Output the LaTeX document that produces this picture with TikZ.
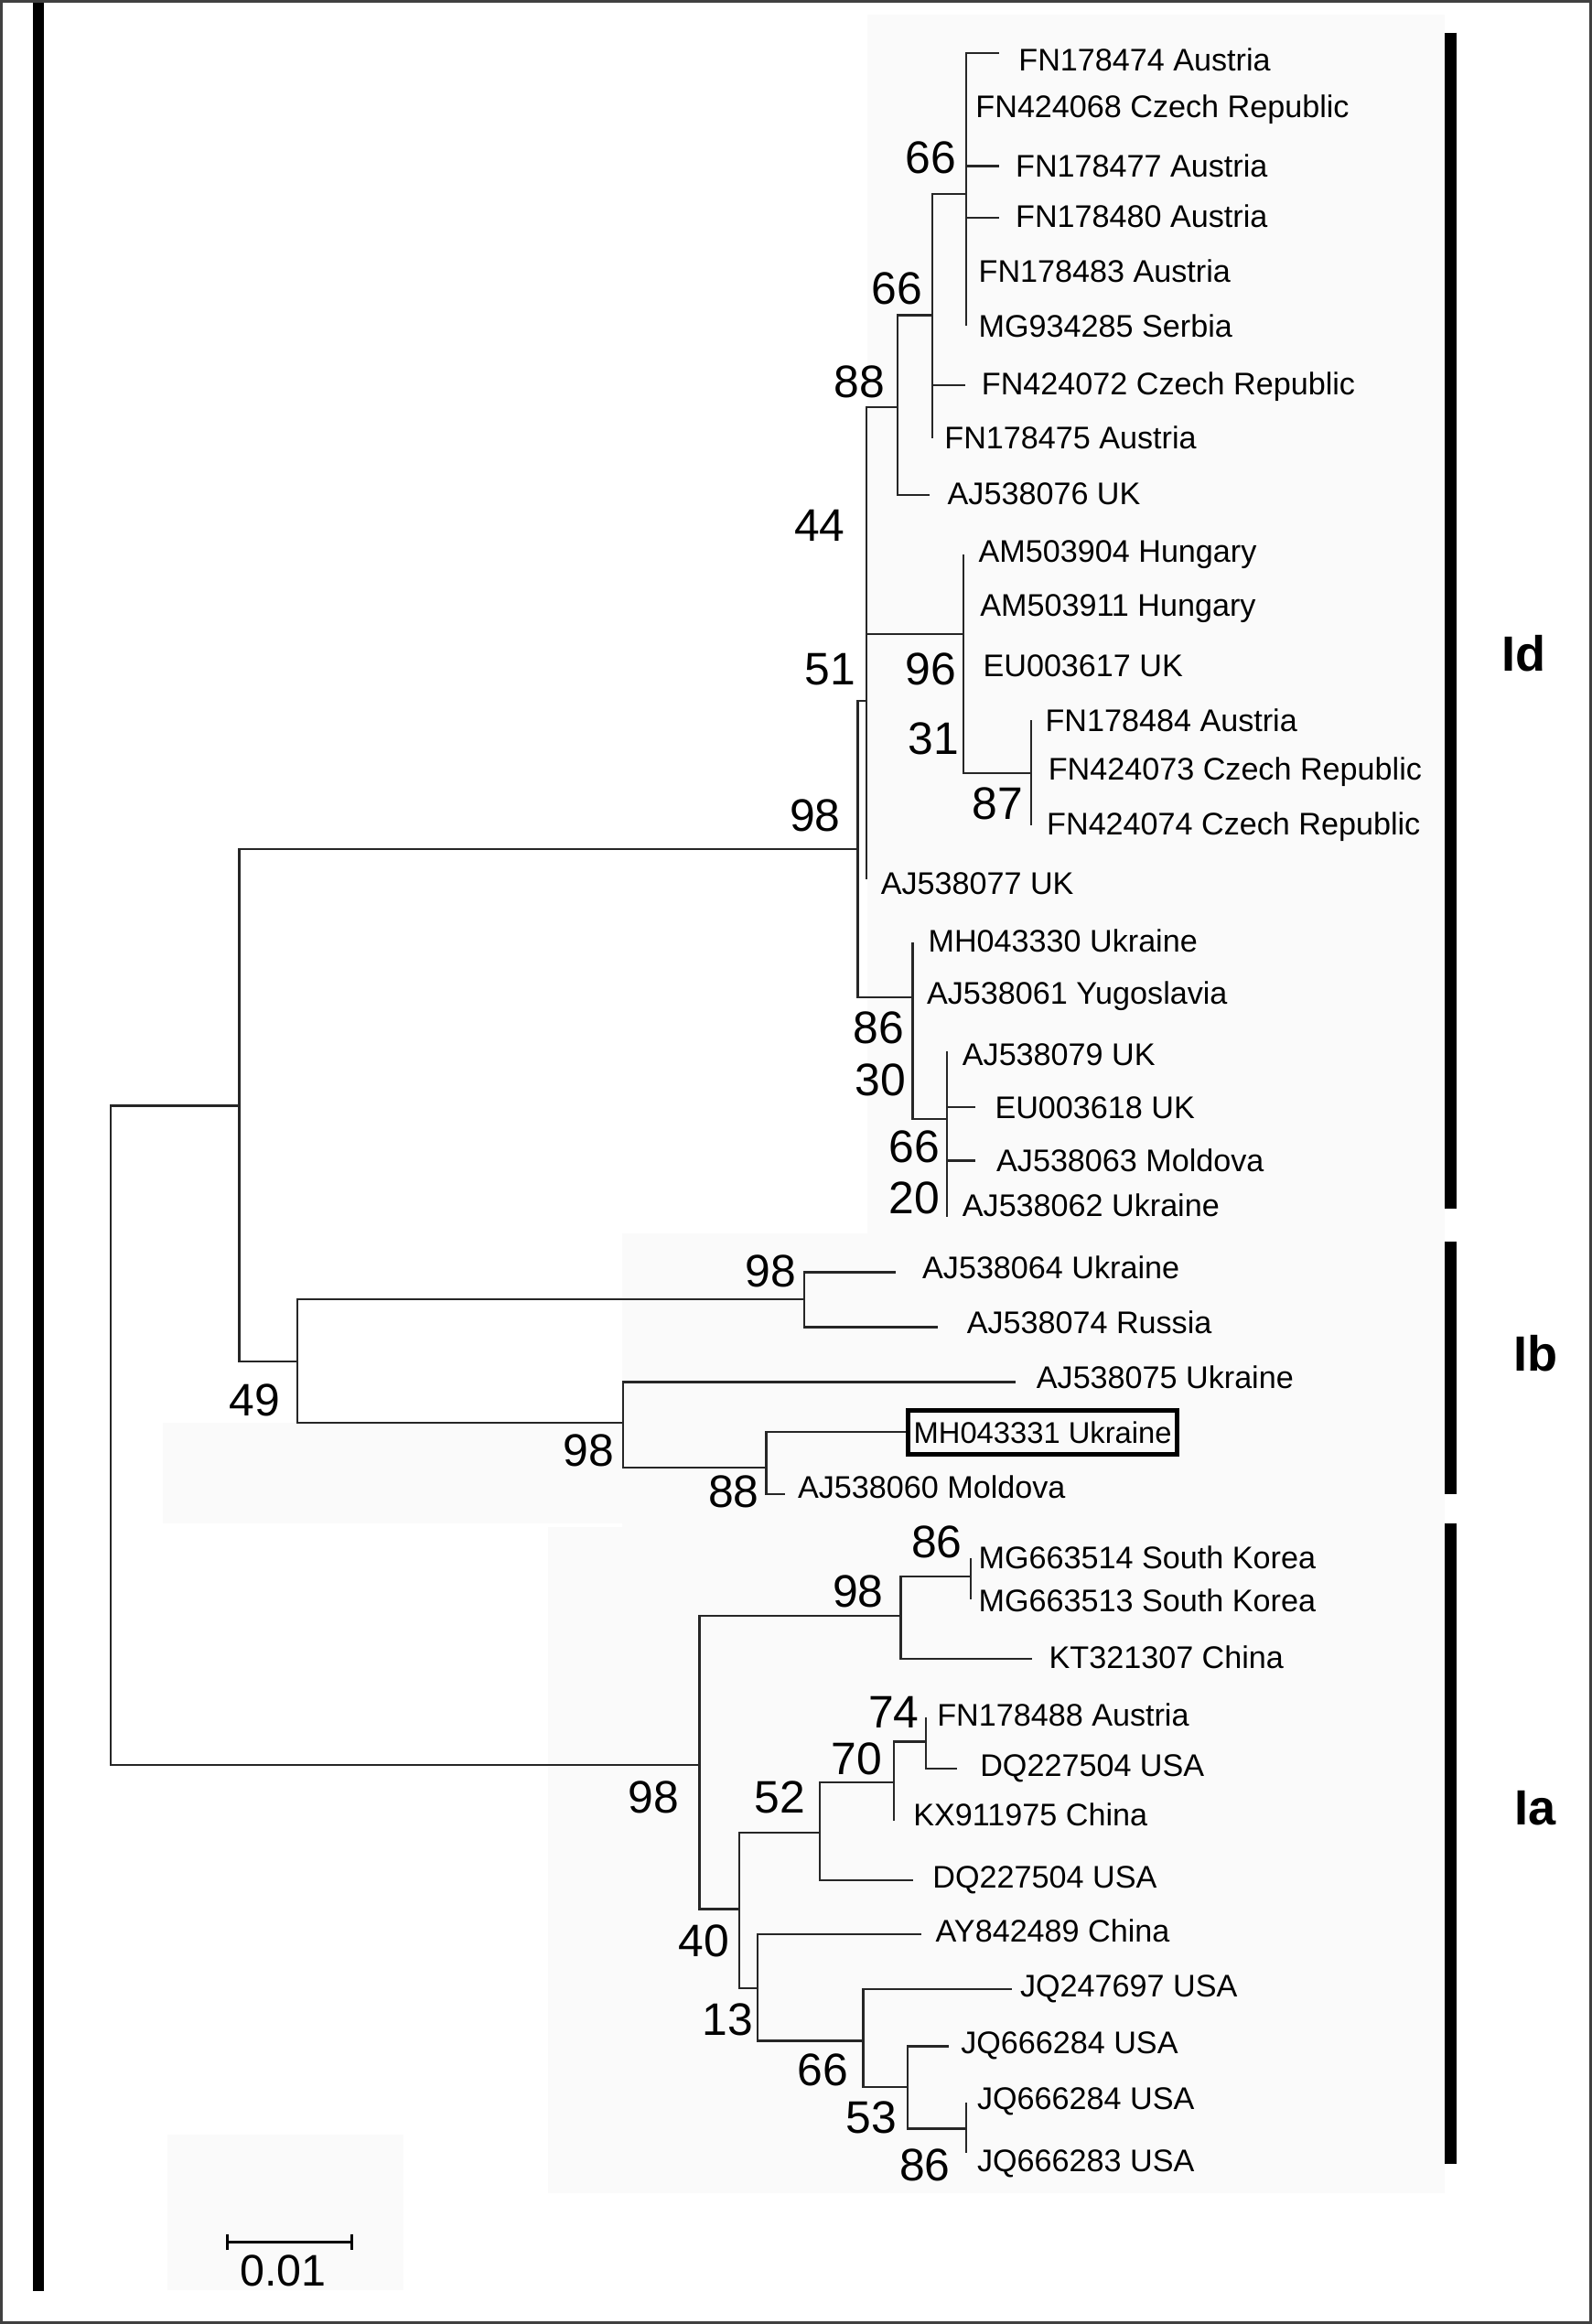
\documentclass[tikz,border=0pt]{standalone}
\usepackage{fontspec}
\setmainfont{Liberation Sans}
\usetikzlibrary{arrows.meta}

\begin{document}
\begin{tikzpicture}[
  x=0.02cm, y=-0.02cm,
  br/.style      ={draw=black!85, line width=0.8pt},
  tip/.style     ={anchor=base west, inner sep=0pt, yshift=-4.3pt,
                   font=\fontsize{12}{14}\selectfont},
  boot/.style    ={anchor=base, inner sep=0pt, yshift=-6.3pt,
                   font=\fontsize{17.5}{20}\selectfont},
  cladebar/.style={line width=4.3pt},
  clade/.style   ={inner sep=0pt, font=\bfseries\fontsize{19}{22}\selectfont},
  patch/.style   ={fill=black!2, draw=none},
  query/.style   ={draw, line width=1.6pt, inner sep=0pt, minimum width=103.3pt,
                   minimum height=16.8pt, font=\fontsize{11.5}{13}\selectfont}
]
\useasboundingbox (0,0) rectangle (1074,1568);

% faint backdrop
\fill[patch] (585,10) rectangle (975,832);
\fill[patch] (420,832) rectangle (975,1030);
\fill[patch] (110,960) rectangle (600,1028);
\fill[patch] (370,1030) rectangle (975,1480);
\fill[patch] (113,1440) rectangle (272,1545);

% frame and left bar
\draw[black!75, line width=1.1pt] (1,1) rectangle (1073,1567);
\coordinate (bartop) at (26,2);
\coordinate (barbot) at (26,1546);
\draw[cladebar] (bartop) -- (barbot);

% internal nodes
\coordinate (root) at (74.5,968);
\coordinate (r2)   at (161.5,746);
\coordinate (h98)  at (578.7,573);
\coordinate (g51)  at (584.6,473);
\coordinate (d44)  at (584.6,351);
\coordinate (c88)  at (605.8,274.5);
\coordinate (b66)  at (629,212.6);
\coordinate (a66)  at (652,130.7);
\coordinate (e96)  at (650,428);
\coordinate (f87)  at (695.8,521.5);
\coordinate (i86)  at (615.8,673);
\coordinate (j30)  at (639,755);
\coordinate (k49)  at (200.6,918.6);
\coordinate (l98)  at (542.6,876.5);
\coordinate (m98)  at (420.3,960);
\coordinate (n88)  at (517,990);
\coordinate (o98)  at (472,1191);
\coordinate (p98)  at (607.8,1090);
\coordinate (s86)  at (655,1063.8);
\coordinate (q40)  at (499,1288);
\coordinate (u52)  at (553.3,1236.6);
\coordinate (w70)  at (603,1202.7);
\coordinate (x74)  at (624.7,1175);
\coordinate (v13)  at (511,1341.6);
\coordinate (y66)  at (582.4,1377);
\coordinate (z53)  at (612.2,1408);
\coordinate (aa86) at (651.7,1436.2);

% tips: branch end, then label
\foreach \n/\xe/\ye/\xt/\yt/\lab in {
  t1/674/36/687/40/FN178474 Austria,
  t2/652/72/658/72/FN424068 Czech Republic,
  t3/674/112/685/112/FN178477 Austria,
  t4/674/147/685/146/FN178480 Austria,
  t5/652/183/660/183/FN178483 Austria,
  t6/652/220/660/220/MG934285 Serbia,
  t7/651/260/662/259/FN424072 Czech Republic,
  t8/629/296/637/295/FN178475 Austria,
  t9/627/334/639/333/AJ538076 UK,
  t10/650/374/660/372/AM503904 Hungary,
  t11/650/408/661/408/AM503911 Hungary,
  t12/650/449/663/449/EU003617 UK,
  t13/695.8/486/705/486/FN178484 Austria,
  t14/695.8/519/707/519/FN424073 Czech Republic,
  t15/695.8/556.7/706/556/FN424074 Czech Republic,
  t16/584.6/593/594/596/AJ538077 UK,
  t17/615.8/636/626/635/MH043330 Ukraine,
  t18/615.8/670/625/670/AJ538061 Yugoslavia,
  t19/639/709/649/711/AJ538079 UK,
  t20/658/747/671/747/EU003618 UK,
  t21/658/783/672/783/AJ538063 Moldova,
  t22/639/821/649/813/AJ538062 Ukraine,
  t23/604.5/858.4/622/855/AJ538064 Ukraine,
  t24/632.7/895.5/652/892/AJ538074 Russia,
  t25/685/932.5/699/929/AJ538075 Ukraine,
  t27/529.7/1008/538/1003/AJ538060 Moldova,
  t28/655/1051.4/660/1051/MG663514 South Korea,
  t29/655/1079/660/1080/MG663513 South Korea,
  t30/696.5/1119.3/707.5/1118/KT321307 China,
  t31/624.7/1158.4/632/1157/FN178488 Austria,
  t32/646/1193.4/661/1191/DQ227504 USA,
  t33/603/1228.4/616/1224/KX911975 China,
  t34/616/1268.5/629/1266/DQ227504 USA,
  t35/621.9/1305/631/1303/AY842489 China,
  t36/682.8/1342/688/1340/JQ247697 USA,
  t37/640.4/1380.7/648/1378/JQ666284 USA,
  t38/651.7/1418.7/659/1415.6/JQ666284 USA,
  t39/651.7/1452.7/659/1457.8/JQ666283 USA}{
  \coordinate (\n) at (\xe,\ye);
  \node[tip] (l\n) at (\xt,\yt) {\lab};
}
\node[query] (t26) at (703.5,966.3) {MH043331 Ukraine};

% branches
\foreach \p/\c in {root/r2, root/o98, r2/h98, r2/k49, h98/g51, h98/i86,
  g51/d44, g51/t16, d44/c88, d44/e96, c88/b66, c88/t9,
  b66/a66, b66/t7, b66/t8, a66/t1, a66/t2, a66/t3, a66/t4, a66/t5, a66/t6,
  e96/t10, e96/t11, e96/t12, e96/f87, f87/t13, f87/t14, f87/t15,
  i86/t17, i86/t18, i86/j30, j30/t19, j30/t20, j30/t21, j30/t22,
  k49/l98, k49/m98, l98/t23, l98/t24, m98/t25, m98/n88, n88/t27,
  o98/p98, o98/q40, p98/s86, p98/t30, s86/t28, s86/t29,
  q40/u52, q40/v13, u52/w70, u52/t34, w70/x74, w70/t33, x74/t31, x74/t32,
  v13/t35, v13/y66, y66/t36, y66/z53, z53/t37, z53/aa86, aa86/t38, aa86/t39}
  \draw[br] (\p) |- (\c);
\draw[br] (n88) |- (t26.west);

% bootstrap values
\foreach \v/\bx/\by [count=\i] in {66/628/106, 66/605/194, 88/580/257, 44/553/354,
  51/560/451, 96/628/451, 31/630/498, 87/673/542, 98/550/550, 86/593/693,
  30/594/728, 66/617/773, 20/617/808, 98/520/857, 49/172/944, 98/397/978,
  88/495/1006, 86/632/1040, 98/579/1073, 74/603/1155, 70/578/1186, 98/441/1212,
  52/526/1212, 40/475/1309, 13/491/1362, 66/555/1396, 53/588/1428, 86/624/1460}
  \node[boot] (bs\i) at (\bx,\by) {\v};

% clade bars
\coordinate (Idtop) at (978.7,22);   \coordinate (Idbot) at (978.7,815.5);
\coordinate (Ibtop) at (978.7,838);  \coordinate (Ibbot) at (978.7,1008);
\coordinate (Iatop) at (978.7,1028); \coordinate (Iabot) at (978.7,1460);
\draw[cladebar] (Idtop) -- (Idbot);
\draw[cladebar] (Ibtop) -- (Ibbot);
\draw[cladebar] (Iatop) -- (Iabot);
\node[clade] (Id) at (1028,441) {Id};
\node[clade] (Ib) at (1036,913) {Ib};
\node[clade] (Ia) at (1036,1220) {Ia};

% scale bar
\coordinate (sbL) at (152.4,1512.7);
\coordinate (sbR) at (238.1,1512.7);
\draw[line width=1pt, {Bar[width=6.2pt]}-{Bar[width=6.2pt]}] (sbL) -- (sbR);
\node[boot, font=\fontsize{17}{20}\selectfont] (sbtext) at (191,1531) {0.01};
\end{tikzpicture}
\end{document}
